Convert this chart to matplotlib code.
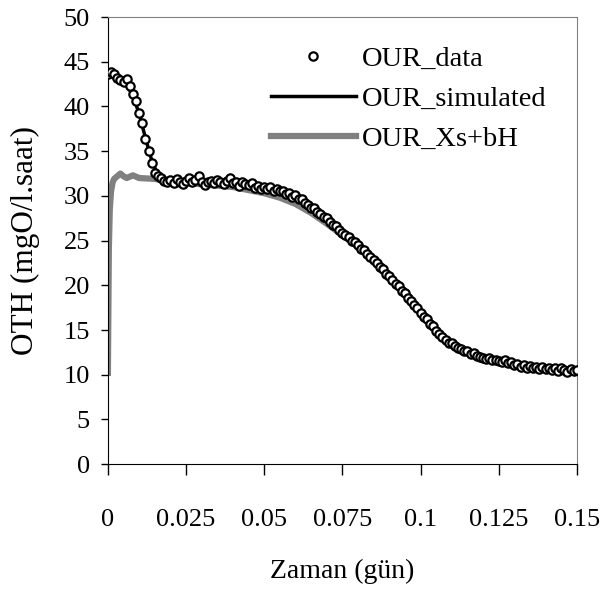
import numpy as np
import matplotlib
matplotlib.use('Agg')
import matplotlib.pyplot as plt

plt.rc('font', family='Liberation Serif', size=19)

# measured OUR data, one reading every 0.001 day
t_data = np.arange(0, 151) / 1000.0
our_data = [43.6, 43.9, 43.6, 43.2, 43.0, 42.7, 43.1, 42.3, 41.4, 40.6,
            39.3, 38.1, 36.4, 35.0, 33.7, 32.6, 32.2, 32.0, 31.7, 31.5,
            31.8, 31.4, 31.9, 31.6, 31.3, 31.7, 32.0, 31.5, 31.8, 32.2,
            31.6, 31.2, 31.5, 31.7, 31.4, 31.8, 31.6, 31.3, 31.7, 32.0,
            31.4, 31.6, 31.1, 31.5, 31.3, 31.2, 31.4, 30.9, 31.1, 30.8,
            31.0, 30.8, 31.0, 30.6, 30.8, 30.5, 30.6, 30.2, 30.3, 29.9,
            30.1, 29.7, 29.6, 29.2, 29.0, 28.7, 28.6, 28.2, 28.0, 27.6,
            27.5, 27.1, 26.8, 26.6, 26.2, 25.9, 25.6, 25.4, 25.0, 24.8,
            24.5, 24.1, 23.9, 23.5, 23.2, 22.8, 22.5, 22.0, 21.8, 21.3,
            21.0, 20.6, 20.2, 19.9, 19.4, 19.1, 18.6, 18.3, 17.8, 17.5,
            16.9, 16.5, 16.2, 15.7, 15.4, 14.9, 14.6, 14.2, 13.9, 13.6,
            13.5, 13.2, 13.0, 12.9, 12.7, 12.6, 12.3, 12.4, 12.1, 12.0,
            11.9, 11.8, 11.9, 11.6, 11.7, 11.5, 11.4, 11.6, 11.3, 11.4,
            11.1, 11.2, 10.9, 11.1, 10.8, 11.0, 10.8, 10.9, 10.6, 10.9,
            10.6, 10.8, 10.5, 10.7, 10.4, 10.7, 10.5, 10.3, 10.6, 10.4,
            10.5]

# simulated OUR
t_sim = [0, 0.002, 0.004, 0.006, 0.008, 0.010, 0.012, 0.014, 0.016, 0.018,
         0.02, 0.03, 0.04, 0.05, 0.055, 0.06, 0.065, 0.07, 0.075, 0.08,
         0.085, 0.09, 0.095, 0.1, 0.105, 0.11, 0.115, 0.12, 0.125, 0.13,
         0.14, 0.15]
our_sim = [43.8, 43.5, 43.0, 42.4, 41.2, 39.2, 36.5, 34.0, 32.3, 31.9,
           31.8, 31.7, 31.5, 31.0, 30.6, 30.0, 28.8, 27.4, 25.9, 24.5,
           22.8, 21.0, 19.1, 16.9, 15.0, 13.5, 12.6, 12.0, 11.6, 11.2,
           10.8, 10.5]

# Xs + bH part
t_xs = [0, 0.0003, 0.0006, 0.001, 0.0015, 0.002, 0.003, 0.004, 0.005, 0.006,
        0.008, 0.01, 0.015, 0.02, 0.03, 0.04, 0.05, 0.055, 0.06, 0.065,
        0.07, 0.075, 0.08, 0.085, 0.09, 0.095, 0.1, 0.105, 0.11, 0.115,
        0.12, 0.125, 0.13, 0.14, 0.15]
our_xs = [10.2, 24.0, 28.5, 30.5, 31.5, 31.9, 32.2, 32.5, 32.2, 32.0,
          32.3, 32.0, 31.9, 31.6, 31.3, 31.0, 30.3, 29.8, 29.1, 28.1,
          26.9, 25.6, 24.3, 22.7, 20.9, 19.0, 16.9, 15.0, 13.5, 12.6,
          12.0, 11.6, 11.2, 10.8, 10.5]

fig = plt.figure(figsize=(6.13, 5.89), dpi=100)
ax = fig.add_axes([0.176, 0.212, 0.765, 0.759])

ax.plot(t_xs, our_xs, color='#808080', lw=4.5, label='OUR_Xs+bH', zorder=1)
ax.plot(t_sim, our_sim, color='black', lw=2.5, label='OUR_simulated', zorder=2)
ax.plot(t_data, our_data, 'o', ms=6, mfc='white', mec='black', mew=1.6,
        label='OUR_data', zorder=3)

ax.set_xlim(0, 0.15)
ax.set_ylim(0, 50)
ax.set_xticks([0, 0.025, 0.05, 0.075, 0.1, 0.125, 0.15])
ax.set_xticklabels(['0', '0.025', '0.05', '0.075', '0.1', '0.125', '0.15'])
ax.set_yticks(range(0, 51, 5))
ax.tick_params(axis='x', direction='out', length=8, width=1, pad=24)
ax.tick_params(axis='y', direction='out', length=5, width=1, pad=8)
for s in ['top', 'right']:
    ax.spines[s].set_color('#808080')

ax.set_xlabel('Zaman (gün)', labelpad=20, fontsize=20)
ax.set_ylabel('OTH (mgO/l.saat)', labelpad=17, fontsize=22.5)

h, l = ax.get_legend_handles_labels()
ax.legend(h[::-1], l[::-1], loc='upper left', bbox_to_anchor=(0.317, 0.968),
          frameon=False, handlelength=3.0, handletextpad=0.2,
          labelspacing=0.5, borderpad=0, fontsize=20.5)

fig.savefig('out.png', dpi=100)
